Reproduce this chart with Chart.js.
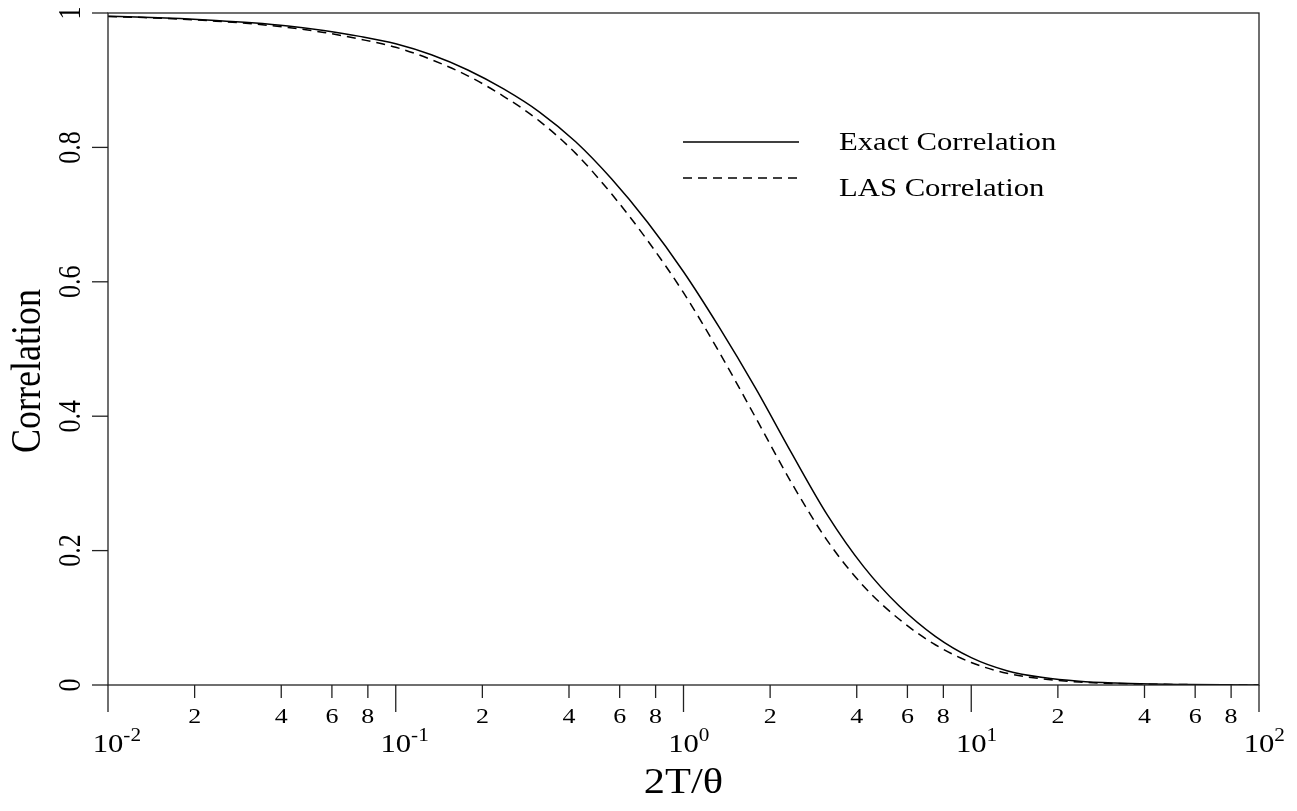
<!DOCTYPE html>
<html>
<head>
<meta charset="utf-8">
<script src="https://cdn.jsdelivr.net/npm/chart.js@4.4.0/dist/chart.umd.min.js"></script>
<style>
    html, body { margin: 0; padding: 0; background: #fff; }
</style>
</head>
<body>
<canvas id="myChart" width="1297" height="811"></canvas>
<script>
// 2T/theta, eight steps per decade
const xValues = [0.01, 0.0133, 0.0178, 0.0237, 0.0316, 0.0422, 0.0562, 0.075,
                 0.1, 0.133, 0.178, 0.237, 0.316, 0.422, 0.562, 0.75,
                 1, 1.33, 1.78, 2.37, 3.16, 4.22, 5.62, 7.5,
                 10, 13.3, 17.8, 23.7, 31.6, 42.2, 56.2, 75, 100];
const exactCorr = [0.9952, 0.9938, 0.9917, 0.9890, 0.9855, 0.9807, 0.9739, 0.9652,
                   0.9542, 0.9378, 0.9152, 0.8870, 0.8526, 0.8083, 0.7532, 0.6886,
                   0.6150, 0.5325, 0.4418, 0.3458, 0.2532, 0.1765, 0.1175, 0.0724,
                   0.0407, 0.0213, 0.0110, 0.0055, 0.0028, 0.0014, 0.0007, 0.0002, 0.0001];
const lasCorr = [0.9948, 0.9932, 0.9909, 0.9879, 0.9840, 0.9785, 0.9711, 0.9611,
                 0.9490, 0.9306, 0.9065, 0.8761, 0.8391, 0.7911, 0.7309, 0.6615,
                 0.5838, 0.4955, 0.3981, 0.3013, 0.2149, 0.1473, 0.0978, 0.0599,
                 0.0335, 0.0174, 0.0089, 0.0045, 0.0022, 0.0012, 0.0006, 0.0002, 0.0001];

const yTicks = [0, 0.2, 0.4, 0.6, 0.8, 1];
const yTickLabels = ['0', '0.2', '0.4', '0.6', '0.8', '1'];
const decades = [0.01, 0.1, 1, 10, 100];
const decadeExp = ['-2', '-1', '0', '1', '2'];
const minorMult = [2, 4, 6, 8];
const minorLabels = ['2', '4', '6', '8'];

const FONT = '"Liberation Serif", "Times New Roman", serif';
const SX = 1.18;   // letters are a little wider than tall
const INK = '#222';

function wideText(ctx, txt, x, y, size, align) {
    ctx.save();
    ctx.translate(x, y);
    ctx.scale(SX, 1);
    ctx.font = size + 'px ' + FONT;
    ctx.textAlign = align;
    ctx.textBaseline = 'alphabetic';
    ctx.fillText(txt, 0, 0);
    ctx.restore();
}

// vertical text, reading bottom to top, baseline on the right
function upText(ctx, txt, x, y, size) {
    ctx.save();
    ctx.translate(x, y);
    ctx.rotate(-Math.PI / 2);
    ctx.scale(1, SX);
    ctx.font = size + 'px ' + FONT;
    ctx.textAlign = 'center';
    ctx.textBaseline = 'alphabetic';
    ctx.fillText(txt, 0, 0);
    ctx.restore();
}

const axesPlugin = {
    id: 'plotAxes',
    afterDraw(chart) {
        const ctx = chart.ctx;
        const a = chart.chartArea;
        const xs = chart.scales.x;
        const ys = chart.scales.y;
        ctx.save();
        ctx.strokeStyle = INK;
        ctx.fillStyle = '#000';
        ctx.lineWidth = 1.3;
        ctx.setLineDash([]);

        // box round the plot
        ctx.strokeRect(a.left, a.top, a.right - a.left, a.bottom - a.top);

        // y ticks and labels
        yTicks.forEach((v, i) => {
            const py = ys.getPixelForValue(v);
            ctx.beginPath();
            ctx.moveTo(a.left - 16, py);
            ctx.lineTo(a.left, py);
            ctx.stroke();
            upText(ctx, yTickLabels[i], 80, py, 26);
        });

        // x major ticks with 10^n labels
        decades.forEach((d, i) => {
            const px = xs.getPixelForValue(d);
            ctx.beginPath();
            ctx.moveTo(px, a.bottom);
            ctx.lineTo(px, a.bottom + 27);
            ctx.stroke();
            ctx.font = '26px ' + FONT;
            const w = ctx.measureText('10').width * SX;
            wideText(ctx, '10', px, 752, 26, 'center');
            wideText(ctx, decadeExp[i], px + w / 2, 741, 18, 'left');
        });

        // x minor ticks
        decades.slice(0, -1).forEach(d => {
            minorMult.forEach((m, j) => {
                const px = xs.getPixelForValue(d * m);
                ctx.beginPath();
                ctx.moveTo(px, a.bottom);
                ctx.lineTo(px, a.bottom + 13);
                ctx.stroke();
                wideText(ctx, minorLabels[j], px, 723, 22, 'center');
            });
        });

        // axis titles
        upText(ctx, 'Correlation', 40, 371, 36);
        wideText(ctx, '2T/\u03b8', (a.left + a.right) / 2, 793, 36, 'center');

        // legend
        ctx.strokeStyle = '#000';
        ctx.lineWidth = 1.5;
        ctx.beginPath();
        ctx.moveTo(683, 142);
        ctx.lineTo(799, 142);
        ctx.stroke();
        ctx.setLineDash([9, 6]);
        ctx.beginPath();
        ctx.moveTo(683, 178);
        ctx.lineTo(799, 178);
        ctx.stroke();
        ctx.setLineDash([]);
        wideText(ctx, 'Exact Correlation', 839, 150, 26, 'left');
        wideText(ctx, 'LAS Correlation', 839, 196, 26, 'left');
        ctx.restore();
    }
};

const ctx = document.getElementById('myChart').getContext('2d');
const myChart = new Chart(ctx, {
    type: 'line',
    data: {
        datasets: [
            {
                label: 'Exact Correlation',
                data: xValues.map((x, i) => ({ x: x, y: exactCorr[i] })),
                borderColor: '#000',
                borderWidth: 1.5,
                pointRadius: 0,
                cubicInterpolationMode: 'monotone',
                fill: false,
            },
            {
                label: 'LAS Correlation',
                data: xValues.map((x, i) => ({ x: x, y: lasCorr[i] })),
                borderColor: '#000',
                borderWidth: 1.5,
                borderDash: [9, 6],
                pointRadius: 0,
                cubicInterpolationMode: 'monotone',
                fill: false,
            }
        ]
    },
    options: {
        responsive: false,
        animation: false,
        devicePixelRatio: 1,
        layout: {
            padding: { left: 108, right: 38, top: 13, bottom: 126 }
        },
        scales: {
            x: {
                type: 'logarithmic',
                min: 0.01,
                max: 100,
                grid: { display: false, drawTicks: false },
                border: { display: false },
                ticks: { display: false },
            },
            y: {
                type: 'linear',
                min: 0,
                max: 1,
                grid: { display: false, drawTicks: false },
                border: { display: false },
                ticks: { display: false },
            }
        },
        plugins: {
            legend: { display: false },
            tooltip: { enabled: false },
        },
    },
    plugins: [axesPlugin]
});
</script>
</body>
</html>
